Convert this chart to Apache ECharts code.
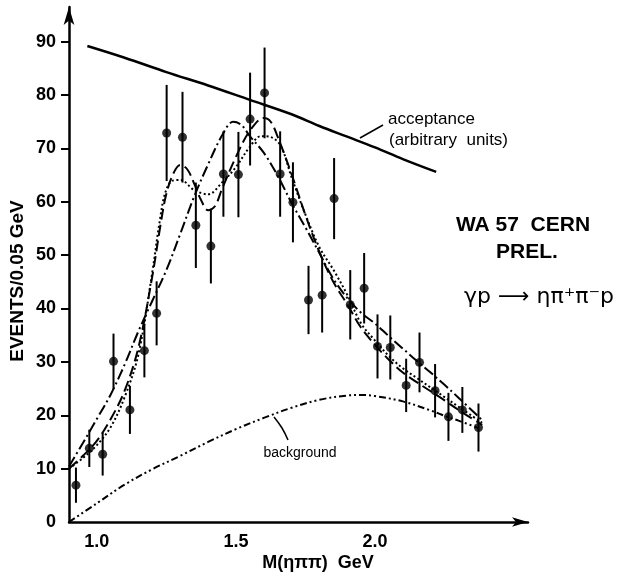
<!DOCTYPE html>
<html>
<head>
<meta charset="utf-8">
<style>
  html, body { margin: 0; padding: 0; background: #fff; }
  #chart { width: 619px; height: 576px; }
</style>
<script src="https://cdn.jsdelivr.net/npm/echarts@6/dist/echarts.min.js"></script>
</head>
<body>
<div id="chart"></div>
<script>
// Measured η π+ π- mass spectrum, 0.05 GeV bins
const mass = [0.925, 0.973, 1.021, 1.06, 1.119, 1.171, 1.215, 1.251, 1.308, 1.356,
              1.41, 1.455, 1.509, 1.551, 1.603, 1.659, 1.705, 1.761, 1.81, 1.853,
              1.911, 1.961, 2.009, 2.055, 2.112, 2.16, 2.216, 2.264, 2.314, 2.372];
const events = [6.9, 13.8, 12.7, 30.1, 21, 32.1, 39.1, 72.9, 72.1, 55.6,
                51.7, 65.2, 65.1, 75.5, 80.4, 65.2, 59.9, 41.6, 42.5, 60.6,
                40.7, 43.8, 32.9, 32.7, 25.6, 29.9, 24.6, 19.7, 21, 17.7];
const errors = [3.3, 3.5, 4, 5.2, 4.5, 5, 6, 9, 8.5, 8,
                7, 8, 8, 8.7, 8.5, 8, 7.5, 6.4, 7, 7.6,
                6.5, 6.6, 6, 6, 5, 5.6, 5, 4.5, 4.3, 4.5];

// Acceptance curve (arbitrary units)
const acceptance = [[0.966, 89.2], [1.1, 87.0], [1.25, 84.3], [1.4, 81.8], [1.55, 79.1],
                    [1.7, 76.4], [1.8, 74.2], [1.9, 72.2], [2.0, 70.2], [2.1, 68.0], [2.22, 65.6]];

// Two-resonance fit, dashed
const fitDashed = [[0.9, 10], [0.95, 12.4], [1.0, 15.2], [1.05, 19.3], [1.1, 24.6], [1.15, 32.8],
                   [1.2, 46.2], [1.23, 56], [1.25, 61.5], [1.275, 65.3], [1.3, 66.9], [1.325, 66.1],
                   [1.35, 63.4], [1.375, 60.3], [1.4, 58.4], [1.425, 59.2], [1.45, 62.4], [1.5, 68.4],
                   [1.55, 73.3], [1.6, 75.7], [1.625, 75], [1.65, 72.2], [1.7, 65.2], [1.75, 57.5],
                   [1.8, 50.6], [1.85, 45], [1.9, 40.8], [1.95, 36.4], [2.0, 33.2], [2.05, 30.4],
                   [2.1, 28], [2.15, 26.2], [2.2, 24.5], [2.25, 22.8], [2.3, 21], [2.385, 18.2]];

// Two-resonance fit, dotted
const fitDotted = [[0.9, 10], [0.95, 12], [1.0, 14.4], [1.05, 17.8], [1.1, 23.4], [1.15, 31.5],
                   [1.2, 47], [1.225, 56], [1.245, 61.5], [1.27, 63.9], [1.3, 64.1], [1.35, 62.2],
                   [1.4, 61.4], [1.45, 63.6], [1.5, 66.5], [1.55, 70.3], [1.59, 72.3], [1.62, 72.2],
                   [1.66, 70.6], [1.7, 64.6], [1.75, 57.6], [1.8, 51.5], [1.85, 47.3], [1.9, 42.6],
                   [1.95, 37.2], [2.0, 34], [2.05, 31.1], [2.1, 28.8], [2.15, 27], [2.2, 25.2],
                   [2.25, 23.4], [2.3, 21.6], [2.385, 18.6]];

// Single-resonance fit, dash-dot
const fitDashDot = [[0.9, 10.4], [0.95, 14.8], [1.0, 19.3], [1.05, 23.9], [1.1, 29.5], [1.15, 35.8],
                    [1.2, 41.5], [1.25, 47.2], [1.3, 54], [1.35, 61], [1.4, 67], [1.45, 72.4],
                    [1.49, 75], [1.52, 74.4], [1.55, 72.3], [1.6, 69.2], [1.65, 64.9], [1.7, 59.8],
                    [1.75, 55.2], [1.8, 50.4], [1.85, 45.6], [1.9, 42], [1.95, 39.2], [2.0, 37.2],
                    [2.05, 34.8], [2.1, 32.5], [2.15, 30.2], [2.2, 28], [2.25, 25.7], [2.3, 23.3],
                    [2.385, 19.1]];

// Background contribution, dash-dot-dot
const background = [[0.9, 0], [1.0, 3.5], [1.1, 7], [1.2, 9.9], [1.3, 12.4], [1.4, 15],
                    [1.5, 17.4], [1.6, 19.5], [1.7, 21.4], [1.8, 22.9], [1.9, 23.7], [1.95, 23.8],
                    [2.0, 23.6], [2.1, 22.6], [2.2, 20.9], [2.26, 19.7], [2.3, 19], [2.372, 17.6]];

const xLabels = [1.0, 1.5, 2.0];
const yLabels = [0, 10, 20, 30, 40, 50, 60, 70, 80, 90];
const yTicks = [10, 20, 30, 40, 50, 60, 70, 80, 90];

const FONT = "'Liberation Sans', 'DejaVu Sans', sans-serif";
const INK = '#000';

function curve(data, dash, width) {
  return {
    type: 'line',
    data: data,
    smooth: 0.35,
    showSymbol: false,
    silent: true,
    z: 2,
    lineStyle: { color: INK, width: width || 2, type: dash }
  };
}

const chart = echarts.init(document.getElementById('chart'), null, { renderer: 'canvas' });

chart.setOption({
  backgroundColor: '#fff',
  animation: false,
  grid: { left: 69, right: 91, top: 7, bottom: 54, containLabel: false },
  xAxis: {
    type: 'value',
    min: 0.9,
    max: 2.55,
    axisLine: {
      show: true,
      symbol: ['none', 'arrow'],
      symbolSize: [7, 16],
      lineStyle: { color: INK, width: 2.5 }
    },
    axisTick: { show: false },
    splitLine: { show: false },
    axisLabel: {
      customValues: xLabels,
      formatter: v => v.toFixed(1),
      color: INK,
      fontFamily: FONT,
      fontSize: 18,
      fontWeight: 'bold',
      margin: 11
    }
  },
  yAxis: {
    type: 'value',
    min: 0,
    max: 96.5,
    axisLine: {
      show: true,
      symbol: ['none', 'arrow'],
      symbolSize: [8, 18],
      lineStyle: { color: INK, width: 2.5 }
    },
    axisTick: {
      show: true,
      customValues: yTicks,
      length: 8,
      lineStyle: { color: INK, width: 2 }
    },
    splitLine: { show: false },
    axisLabel: {
      customValues: yLabels,
      color: INK,
      fontFamily: FONT,
      fontSize: 18,
      fontWeight: 'bold',
      margin: 13
    }
  },
  series: [
    curve(acceptance, 'solid', 2.5),
    curve(fitDashed, [11, 5]),
    curve(fitDotted, [2, 2.5]),
    curve(fitDashDot, [11, 3.5, 2, 3.5]),
    curve(background, [7, 3, 2, 3, 2, 3]),
    {
      type: 'custom',
      silent: true,
      z: 3,
      data: mass.map((m, i) => [m, events[i] - errors[i], events[i] + errors[i]]),
      encode: { x: 0, y: [1, 2] },
      renderItem: (params, api) => {
        const lo = api.coord([api.value(0), api.value(1)]);
        const hi = api.coord([api.value(0), api.value(2)]);
        return {
          type: 'line',
          shape: { x1: lo[0], y1: lo[1], x2: hi[0], y2: hi[1] },
          style: { stroke: INK, lineWidth: 2 }
        };
      }
    },
    {
      type: 'scatter',
      silent: true,
      z: 4,
      symbol: 'circle',
      symbolSize: 9,
      itemStyle: { color: INK },
      data: mass.map((m, i) => [m, events[i]])
    }
  ],
  graphic: [
    {
      type: 'text', x: 18, y: 281, rotation: Math.PI / 2,
      style: {
        text: 'EVENTS/0.05 GeV', fontFamily: FONT, fontSize: 19, fontWeight: 'bold',
        fill: INK, align: 'center', verticalAlign: 'middle'
      }
    },
    {
      type: 'text', x: 318, y: 563,
      style: {
        text: 'M(ηππ)  GeV', fontFamily: FONT, fontSize: 18, fontWeight: 'bold',
        fill: INK, align: 'center', verticalAlign: 'middle'
      }
    },
    {
      type: 'text', x: 388, y: 119,
      style: {
        text: 'acceptance', fontFamily: FONT, fontSize: 17,
        fill: INK, align: 'left', verticalAlign: 'middle'
      }
    },
    {
      type: 'text', x: 389, y: 140,
      style: {
        text: '(arbitrary  units)', fontFamily: FONT, fontSize: 17,
        fill: INK, align: 'left', verticalAlign: 'middle'
      }
    },
    {
      type: 'polyline',
      shape: { points: [[360, 138], [383, 125]] },
      style: { stroke: INK, lineWidth: 1.5 }
    },
    {
      type: 'text', x: 300, y: 453,
      style: {
        text: 'background', fontFamily: FONT, fontSize: 14,
        fill: INK, align: 'center', verticalAlign: 'middle'
      }
    },
    {
      type: 'polyline',
      shape: { points: [[274, 417], [282, 428], [288, 440]], smooth: 0.4 },
      style: { stroke: INK, lineWidth: 1.5, fill: null }
    },
    {
      type: 'text', x: 523, y: 225,
      style: {
        text: 'WA 57  CERN', fontFamily: FONT, fontSize: 21, fontWeight: 'bold',
        fill: INK, align: 'center', verticalAlign: 'middle'
      }
    },
    {
      type: 'text', x: 527, y: 252,
      style: {
        text: 'PREL.', fontFamily: FONT, fontSize: 21, fontWeight: 'bold',
        fill: INK, align: 'center', verticalAlign: 'middle'
      }
    },
    {
      type: 'text', x: 539, y: 297,
      style: {
        text: 'γp ⟶ ηπ⁺π⁻p', fontFamily: "'DejaVu Sans', sans-serif", fontSize: 22,
        fill: INK, align: 'center', verticalAlign: 'middle'
      }
    }
  ]
});
</script>
</body>
</html>
